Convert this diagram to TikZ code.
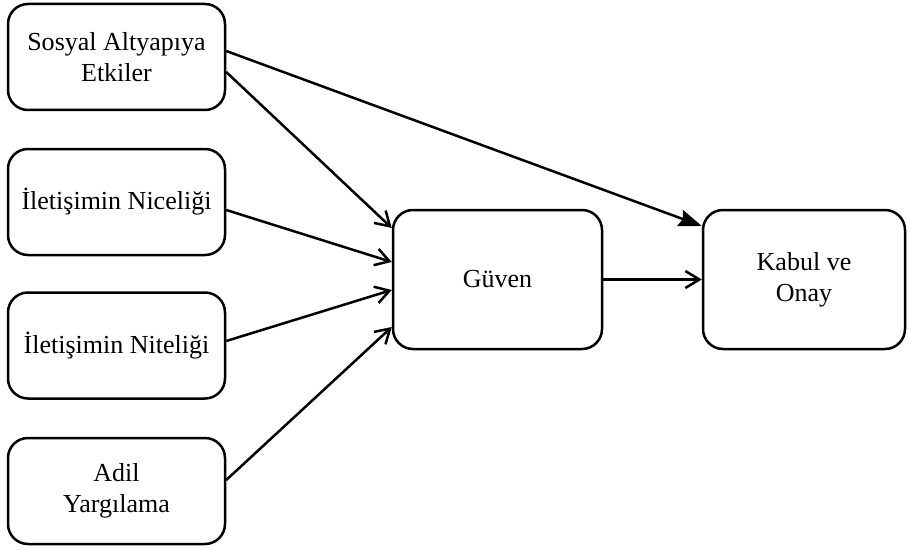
\documentclass[tikz,border=0pt]{standalone}
\usepackage{fontspec}
\setmainfont{Liberation Serif}
\usetikzlibrary{arrows.meta}
\begin{document}
\begin{tikzpicture}[every node/.style={draw,rounded corners=0.4cm,line width=0.05cm,align=center,font=\fontsize{14.8}{17.5}\selectfont},
				kutu/.style={minimum width=4.34cm,minimum height=2.12cm},
				ok/.style={line width=0.05cm,-{Straight Barb[length=0.28cm,width=0.34cm,line width=0.05cm]}},
				okdolu/.style={line width=0.05cm,-{Stealth[length=0.46cm,width=0.34cm,inset=0.06cm]}}]
\useasboundingbox (0,0) rectangle (18.16,-11);
\node[kutu] (sosyal) at (2.33,-1.14) {Sosyal Altyapıya\\Etkiler};
\node[kutu] (nicelik) at (2.33,-4.04) {İletişimin Niceliği};
\node[kutu] (nitelik) at (2.33,-6.91) {İletişimin Niteliği};
\node[kutu] (adil) at (2.33,-9.82) {Adil\\Yargılama};
\node[minimum width=4.18cm,minimum height=2.78cm] (guven) at (9.95,-5.59) {Güven};
\node[minimum width=4.04cm,minimum height=2.78cm] (kabul) at (16.08,-5.59) {Kabul ve\\Onay};

\draw[okdolu] ([yshift=0.12cm]sosyal.east) -- ([yshift=1.07cm]kabul.west);
\draw[ok] ([yshift=-0.3cm]sosyal.east) -- ([yshift=1.03cm]guven.west);
\draw[ok] ([yshift=-0.16cm]nicelik.east) -- ([yshift=0.35cm]guven.west);
\draw[ok] ([yshift=0.09cm]nitelik.east) -- ([yshift=-0.21cm]guven.west);
\draw[ok] ([yshift=0.22cm]adil.east) -- ([yshift=-0.95cm]guven.west);
\draw[ok] (guven) -- (kabul);
\end{tikzpicture}
\end{document}
